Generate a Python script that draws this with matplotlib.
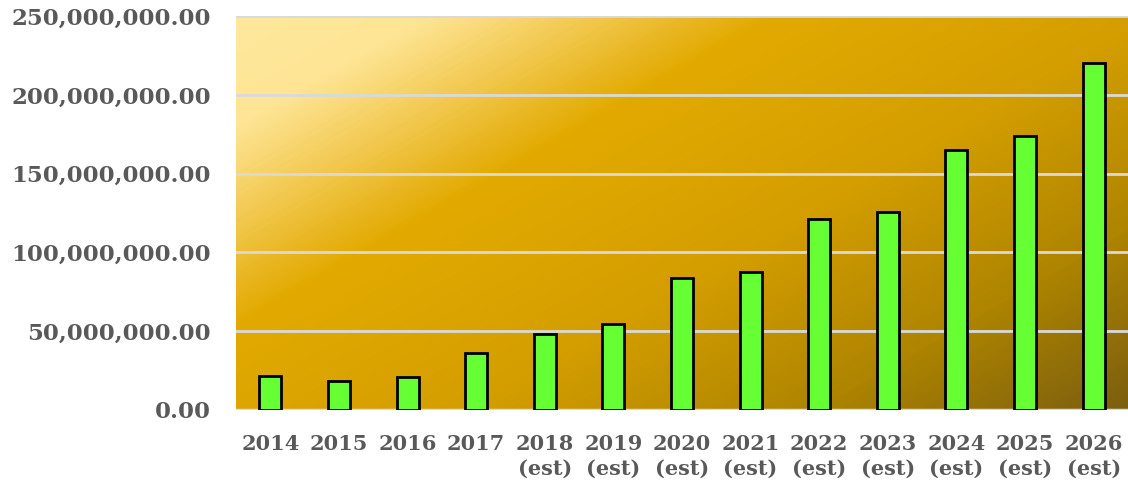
import numpy as np
import matplotlib.pyplot as plt
from matplotlib.colors import LinearSegmentedColormap
from matplotlib.ticker import FuncFormatter

years = ['2014', '2015', '2016', '2017', '2018\n(est)', '2019\n(est)', '2020\n(est)',
         '2021\n(est)', '2022\n(est)', '2023\n(est)', '2024\n(est)', '2025\n(est)', '2026\n(est)']
values = [21.6e6, 18.4e6, 20.9e6, 36.2e6, 48.2e6, 54.6e6, 83.8e6,
          87.6e6, 121.2e6, 125.6e6, 165.0e6, 173.9e6, 220.2e6]

label_color = '#595959'
font = {'family': 'DejaVu Serif', 'weight': 'bold', 'size': 15}

fig = plt.figure(figsize=(11.28, 4.8), dpi=100)
ax = fig.add_axes([236/1128, 70/480, 892/1128, 394/480])

# diagonal gold gradient behind the bars
nx, ny = 892, 394
xx, yy = np.meshgrid(np.arange(nx), np.arange(ny))
t = (0.5*xx + 0.87*yy) / (0.5*nx + 0.87*ny)
cmap = LinearSegmentedColormap.from_list('gold', [
    (0.0, '#FFE89C'), (0.12, '#FEE595'), (0.24, '#F0C445'), (0.34, '#E2AA00'),
    (0.58, '#D49E00'), (0.8, '#AE8400'), (1.0, '#7A5E10')])
ax.imshow(t, cmap=cmap, extent=[-0.5, 12.5, 0, 250e6], aspect='auto',
          origin='upper', zorder=0, vmin=0, vmax=1)

ax.set_xlim(-0.5, 12.5)
ax.set_ylim(0, 250e6)
ax.set_yticks(np.arange(0, 250e6 + 1, 50e6))
for y in np.arange(50e6, 250e6 + 1, 50e6):
    ax.axhline(y, color='#D9D9D9', lw=2, zorder=1)
ax.axhline(0, color='#D9D9D9', lw=2.5, zorder=1)

x = np.arange(len(years))
ax.bar(x, values, width=0.32, color='#66FF33', edgecolor='black', linewidth=2, zorder=2)

ax.set_xticks(x)
ax.set_xticklabels(years, fontdict=font, color=label_color, linespacing=1.3)
ax.yaxis.set_major_formatter(FuncFormatter(lambda v, p: f'{v:,.2f}'))
for lbl in ax.get_yticklabels():
    lbl.set_fontfamily('DejaVu Serif')
    lbl.set_fontweight('bold')
    lbl.set_fontsize(16.5)
    lbl.set_color(label_color)
ax.tick_params(axis='both', length=0)
ax.tick_params(axis='x', pad=17)
ax.tick_params(axis='y', pad=18)
for s in ax.spines.values():
    s.set_visible(False)

plt.savefig('out.png', dpi=100)
